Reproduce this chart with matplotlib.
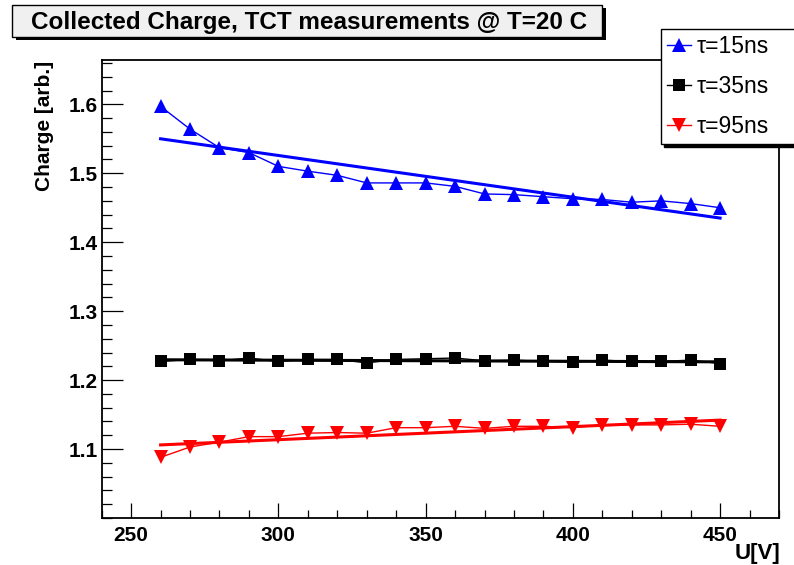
import matplotlib
matplotlib.use("Agg")
import matplotlib.pyplot as plt
from matplotlib.patches import Rectangle
from matplotlib.ticker import MultipleLocator, FormatStrFormatter
from matplotlib.font_manager import FontProperties

# ---- data ----
voltage = [260, 270, 280, 290, 300, 310, 320, 330, 340, 350,
           360, 370, 380, 390, 400, 410, 420, 430, 440, 450]
charge_15 = [1.597, 1.564, 1.537, 1.530, 1.510, 1.503, 1.497, 1.486, 1.486, 1.486,
             1.481, 1.470, 1.469, 1.466, 1.463, 1.462, 1.458, 1.460, 1.456, 1.450]
charge_35 = [1.227, 1.230, 1.228, 1.232, 1.227, 1.230, 1.230, 1.225, 1.230, 1.231,
             1.232, 1.228, 1.229, 1.227, 1.226, 1.229, 1.227, 1.227, 1.229, 1.224]
charge_95 = [1.088, 1.103, 1.110, 1.118, 1.118, 1.123, 1.124, 1.123, 1.131, 1.131,
             1.133, 1.130, 1.133, 1.133, 1.131, 1.135, 1.135, 1.135, 1.136, 1.133]
fit_x = [260, 450]
fit_15 = [1.550, 1.435]
fit_35 = [1.2295, 1.2265]
fit_95 = [1.106, 1.142]
labels = ["τ=15ns", "τ=35ns", "τ=95ns"]
xticks = [250, 300, 350, 400, 450]
yticks = [1.1, 1.2, 1.3, 1.4, 1.5, 1.6]
title = "Collected Charge, TCT measurements @ T=20 C"
xlabel = "U[V]"
ylabel = "Charge [arb.]"

W, H = 794, 565
fig = plt.figure(figsize=(W / 100, H / 100), dpi=100)
fig.patch.set_facecolor("white")

def fx(px):
    return px / W

def fy(py):
    return 1 - py / H

ax = fig.add_axes([fx(101.7), fy(518), fx(779) - fx(101.7), fy(59.5) - fy(518)])

blue, black, red = "#0000ff", "#000000", "#ff0000"

h15, = ax.plot(voltage, charge_15, color=blue, lw=1.0, marker="^", ms=10,
               markeredgewidth=0, label=labels[0], zorder=3)
h35, = ax.plot(voltage, charge_35, color=black, lw=1.0, marker="s", ms=8.5,
               markeredgewidth=0, label=labels[1], zorder=3)
h95, = ax.plot(voltage, charge_95, color=red, lw=1.0, marker="v", ms=10,
               markeredgewidth=0, label=labels[2], zorder=3)

ax.plot(fit_x, fit_15, color=blue, lw=2.2, zorder=2)
ax.plot(fit_x, fit_35, color=black, lw=2.2, zorder=2)
ax.plot(fit_x, fit_95, color=red, lw=2.2, zorder=2)

ax.set_xlim(240, 470)
ax.set_ylim(1.0, 1.665)

ax.set_xticks(xticks)
ax.set_yticks(yticks)
ax.xaxis.set_minor_locator(MultipleLocator(10))
ax.yaxis.set_minor_locator(MultipleLocator(0.02))
ax.yaxis.set_major_formatter(FormatStrFormatter("%.1f"))

ax.tick_params(axis="both", which="both", direction="in", top=False, right=False, width=0.9)
ax.tick_params(axis="y", which="major", length=15, pad=3.0)
ax.tick_params(axis="y", which="minor", length=7.5)
ax.tick_params(axis="x", which="major", length=11, pad=6)
ax.tick_params(axis="x", which="minor", length=5.5)

tick_fp = FontProperties(family="Liberation Sans", weight="bold", size=15)
for lab in ax.get_xticklabels() + ax.get_yticklabels():
    lab.set_fontproperties(tick_fp)

for s in ax.spines.values():
    s.set_linewidth(1.3)

fig.text(fx(45), fy(61), ylabel, rotation=90, ha="center", va="top",
         family="Liberation Sans", weight="bold", size=15)
fig.text(fx(780), fy(564), xlabel, ha="right", va="bottom",
         family="Liberation Sans", weight="bold", size=16)

# title box with shadow
tx0, ty0, tx1, ty1 = 12, 5, 602, 37
fig.patches.append(Rectangle((fx(tx0 + 4), fy(ty1 + 3)), fx(tx1 - tx0), fy(ty0) - fy(ty1),
                             transform=fig.transFigure, facecolor="black", edgecolor="none", zorder=1))
fig.patches.append(Rectangle((fx(tx0), fy(ty1)), fx(tx1 - tx0), fy(ty0) - fy(ty1),
                             transform=fig.transFigure, facecolor="#f0f0f0", edgecolor="black",
                             linewidth=1.0, zorder=2))
fig.text(fx((tx0 + tx1) / 2 + 2), fy((ty0 + ty1) / 2 + 1), title, ha="center", va="center",
         family="Liberation Sans", weight="bold", size=17.5, zorder=3)

# legend (extends past right edge like the reference)
lx0, ly0, ly1 = 661, 29.3, 140.7
leg = ax.legend(handles=[h15, h35, h95], loc="upper left",
                bbox_to_anchor=(fx(lx0), fy(ly1), fx(200), fy(ly0) - fy(ly1)),
                bbox_transform=fig.transFigure, mode="expand",
                frameon=True, fancybox=False, edgecolor="black", facecolor="white",
                framealpha=1, borderaxespad=0, borderpad=0.25, labelspacing=0.75,
                handlelength=1.05, handletextpad=0.25,
                prop=dict(family="Liberation Sans", size=16.5),
                shadow={"color": "black", "alpha": 1.0})
leg.get_frame().set_linewidth(1.0)
leg.set_zorder(10)

fig.savefig("out.png", dpi=100)
